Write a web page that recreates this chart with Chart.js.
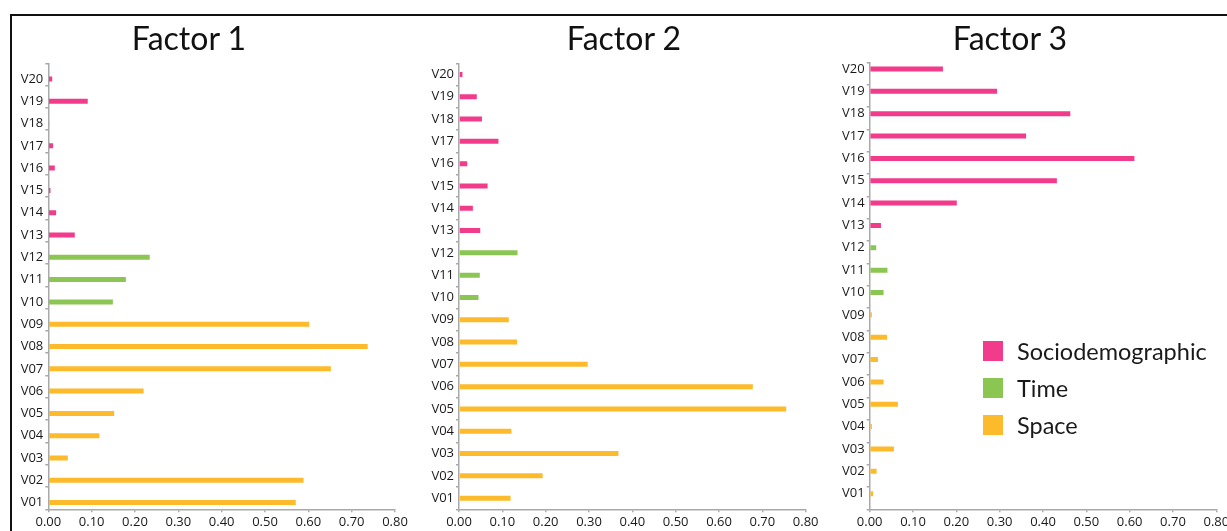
<!DOCTYPE html>
<html>
<head>
<meta charset="utf-8">
<title>Factor loadings</title>
<script src="https://cdn.jsdelivr.net/npm/chart.js@4.4.1/dist/chart.umd.min.js"></script>
<style>
  html, body { margin: 0; padding: 0; background: #fff; width: 1227px; height: 531px; overflow: hidden; }
  #frame { position: absolute; left: 10px; top: 14px; width: 1300px; height: 600px;
           border-top: 2px solid #111; border-left: 2px solid #111; }
  canvas { position: absolute; top: 0; }
  .title { position: absolute; top: 22px; font-family: Lato, sans-serif; font-size: 32px; line-height: 32px;
           color: #111; transform: translateX(-50%); white-space: nowrap; }
  .legend-item { position: absolute; left: 983px; height: 20px; display: flex; align-items: center;
                 font-family: Lato, sans-serif; font-size: 23.5px; color: #1a1a1a; white-space: nowrap; }
  .swatch { width: 20px; height: 20px; margin-right: 14px; flex: none; }
</style>
</head>
<body>
<div id="frame"></div>
<canvas id="c1" width="400" height="531" style="left:12px"></canvas>
<canvas id="c2" width="410" height="531" style="left:412px"></canvas>
<canvas id="c3" width="420" height="531" style="left:822px"></canvas>
<div id="titles"></div>
<div id="legend"></div>
<script>
// Variables, listed bottom to top on the chart
const categories = ['V01','V02','V03','V04','V05','V06','V07','V08','V09','V10',
                    'V11','V12','V13','V14','V15','V16','V17','V18','V19','V20'];
// Dimension each variable belongs to
const categoryGroups = ['Space','Space','Space','Space','Space','Space','Space','Space','Space',
                        'Time','Time','Time',
                        'Sociodemographic','Sociodemographic','Sociodemographic','Sociodemographic',
                        'Sociodemographic','Sociodemographic','Sociodemographic','Sociodemographic'];
// Loadings per factor, same order as categories
const factor1 = [0.571, 0.589, 0.045, 0.118, 0.152, 0.220, 0.652, 0.737, 0.602, 0.149,
                 0.179, 0.234, 0.061, 0.018, 0.005, 0.015, 0.011, 0.002, 0.091, 0.009];
const factor2 = [0.119, 0.193, 0.368, 0.121, 0.755, 0.678, 0.297, 0.134, 0.115, 0.045,
                 0.048, 0.135, 0.049, 0.032, 0.066, 0.019, 0.091, 0.053, 0.041, 0.008];
const factor3 = [0.008, 0.016, 0.056, 0.005, 0.065, 0.032, 0.019, 0.040, 0.005, 0.032,
                 0.041, 0.015, 0.026, 0.201, 0.432, 0.611, 0.361, 0.463, 0.294, 0.169];
const factorTitles = ['Factor 1', 'Factor 2', 'Factor 3'];
const xTicks = [0, 0.1, 0.2, 0.3, 0.4, 0.5, 0.6, 0.7, 0.8];
const groupNames = ['Sociodemographic', 'Time', 'Space'];
const groupColors = { Sociodemographic: '#f33b8b', Time: '#8cc652', Space: '#fdba2a' };

const axisGray = '#a9a9a9';
const tickFont = { family: "'Open Sans', sans-serif", size: 13 };

// Each panel: canvas left edge/width and the plot area in page pixels.
// gap: 'before' / 'after' places an empty slot beside each bar so it sits off-centre in its band.
const panels = [
  { id: 'c1', values: factor1, canvasLeft: 12,  canvasWidth: 400, area: { left: 48.3,  right: 395,    top: 63.3, bottom: 509.3 }, gap: 'before', titleX: 189 },
  { id: 'c2', values: factor2, canvasLeft: 412, canvasWidth: 410, area: { left: 459,   right: 805.7,  top: 63.3, bottom: 509.3 }, gap: null,     titleX: 624 },
  { id: 'c3', values: factor3, canvasLeft: 822, canvasWidth: 420, area: { left: 869.7, right: 1216.3, top: 62.3, bottom: 509.3 }, gap: 'after',  titleX: 1010 }
];

function buildPanel(p, idx) {
  const colors = categoryGroups.map(g => groupColors[g]);
  const main = {
    label: factorTitles[idx], data: p.values, backgroundColor: colors, borderWidth: 0,
    categoryPercentage: 0.8, barPercentage: p.gap ? 0.56 : 0.28
  };
  const blank = {
    label: '', data: p.values.map(() => null), backgroundColor: 'rgba(0,0,0,0)',
    categoryPercentage: 0.8, barPercentage: 0.56
  };
  const datasets = p.gap === 'before' ? [blank, main] : p.gap === 'after' ? [main, blank] : [main];
  const labelShift = p.gap === 'before' ? 4.5 : p.gap === 'after' ? -4.5 : 0;
  const canvasHeight = 531;

  new Chart(document.getElementById(p.id), {
    type: 'bar',
    data: { labels: categories, datasets },
    options: {
      indexAxis: 'y',
      responsive: false,
      animation: false,
      events: [],
      layout: { padding: { left: 0, top: p.area.top, bottom: 0,
                           right: p.canvasLeft + p.canvasWidth - p.area.right } },
      plugins: { legend: { display: false }, tooltip: { enabled: false }, title: { display: false } },
      scales: {
        x: {
          type: 'linear', min: 0, max: 0.8,
          afterBuildTicks: s => { s.ticks = xTicks.map(v => ({ value: v })); },
          afterFit: s => { s.height = canvasHeight - p.area.bottom; },
          ticks: { font: tickFont, color: '#1a1a1a', padding: 2, maxRotation: 0,
                   callback: v => Number(v).toFixed(2) },
          grid: { drawOnChartArea: false, drawTicks: true, tickLength: 3, color: axisGray, lineWidth: 1.5 },
          border: { display: true, color: axisGray, width: 1.5 }
        },
        y: {
          type: 'category', reverse: true, offset: true,
          afterFit: s => { s.width = p.area.left - p.canvasLeft; },
          ticks: { font: tickFont, color: '#1a1a1a', padding: 2, labelOffset: labelShift, autoSkip: false },
          grid: { offset: true, drawOnChartArea: false, drawTicks: true, tickLength: 3, color: axisGray, lineWidth: 1.5 },
          border: { display: true, color: axisGray, width: 1.5 }
        }
      }
    }
  });

  const t = document.createElement('div');
  t.className = 'title';
  t.style.left = p.titleX + 'px';
  t.textContent = factorTitles[idx];
  document.getElementById('titles').appendChild(t);
}

panels.forEach(buildPanel);

// Legend for the three dimensions
const legend = document.getElementById('legend');
groupNames.forEach((name, i) => {
  const item = document.createElement('div');
  item.className = 'legend-item';
  item.style.top = (341 + i * 37) + 'px';
  const sw = document.createElement('span');
  sw.className = 'swatch';
  sw.style.background = groupColors[name];
  item.appendChild(sw);
  item.appendChild(document.createTextNode(name));
  legend.appendChild(item);
});
</script>
</body>
</html>
